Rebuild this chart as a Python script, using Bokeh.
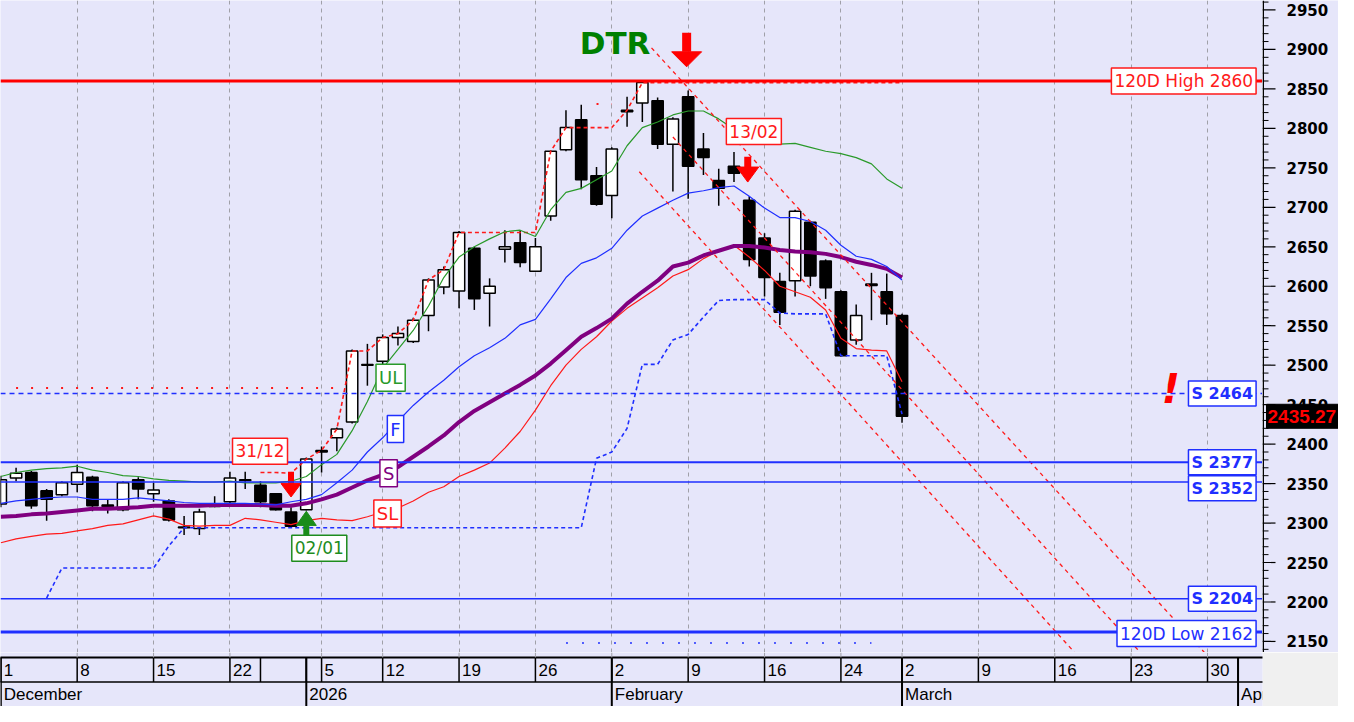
from bokeh.plotting import figure
from bokeh.models import (Range1d, Label, Span, Grid, FixedTicker, ColumnDataSource)
from bokeh.layouts import column, row
from bokeh.embed import file_html
from bokeh.resources import INLINE
from bokeh.core.properties import value

# ---------------- data ----------------
opens = [2324, 2357, 2364, 2341, 2336, 2349, 2358, 2323, 2317, 2355,
         2337, 2328, 2295, 2293, 2322, 2327, 2354, 2348, 2337, 2314,
         2317, 2390, 2408, 2428, 2500, 2505, 2535, 2530, 2563, 2599,
         2594, 2648, 2591, 2647, 2655, 2619, 2689, 2773, 2811, 2740,
         2715, 2821, 2832, 2835, 2780, 2840, 2774, 2734, 2752, 2709,
         2661, 2606, 2607, 2681, 2632, 2593, 2532, 2601, 2593, 2563]
highs = [2360, 2370, 2366, 2343, 2353, 2374, 2360, 2330, 2353, 2358,
         2351, 2330, 2309, 2318, 2334, 2365, 2365, 2353, 2338, 2320,
         2383, 2397, 2421, 2520, 2527, 2539, 2549, 2560, 2610, 2625,
         2670, 2650, 2610, 2671, 2670, 2661, 2772, 2823, 2830, 2751,
         2776, 2840, 2860, 2839, 2814, 2848, 2794, 2749, 2770, 2714,
         2667, 2617, 2697, 2683, 2634, 2595, 2577, 2617, 2616, 2565]
lows = [2320, 2353, 2318, 2303, 2334, 2339, 2315, 2312, 2315, 2330,
        2327, 2302, 2285, 2285, 2320, 2324, 2343, 2320, 2316, 2295,
        2316, 2364, 2391, 2426, 2474, 2499, 2525, 2528, 2543, 2590,
        2572, 2570, 2549, 2630, 2624, 2618, 2683, 2771, 2723, 2702,
        2686, 2802, 2808, 2774, 2720, 2711, 2741, 2702, 2732, 2625,
        2587, 2551, 2587, 2600, 2584, 2511, 2526, 2557, 2551, 2427]
closes = [2355, 2363, 2322, 2330, 2351, 2364, 2322, 2321, 2351, 2343,
          2342, 2304, 2294, 2314, 2321, 2357, 2355, 2327, 2317, 2296,
          2381, 2392, 2419, 2518, 2501, 2535, 2540, 2557, 2608, 2621,
          2668, 2584, 2600, 2650, 2630, 2650, 2771, 2801, 2735, 2704,
          2774, 2823, 2858, 2780, 2812, 2752, 2763, 2724, 2743, 2634,
          2611, 2567, 2695, 2613, 2598, 2512, 2563, 2603, 2565, 2435.27]

ul_line = [2359, 2364, 2367, 2369, 2370, 2372, 2367, 2364, 2360, 2359,
           2356, 2354, 2353, 2352, 2352, 2353, 2351, 2351, 2351, 2353,
           2359, 2374, 2387, 2417, 2454, 2496, 2520, 2544, 2575, 2611,
           2637, 2650, 2660, 2669, 2671, 2663, 2697, 2719, 2724, 2735,
           2746, 2778, 2801, 2808, 2817, 2822, 2822, 2812, 2799, 2791,
           2782, 2780, 2781, 2776, 2771, 2768, 2763, 2755, 2736, 2724]
f_line = [2325, 2328, 2330, 2332, 2333, 2333, 2330, 2330, 2330, 2332,
          2330, 2328, 2326, 2325, 2325, 2325, 2325, 2324, 2323, 2327,
          2330, 2336, 2351, 2367, 2390, 2408, 2429, 2449, 2466, 2481,
          2498, 2512, 2522, 2534, 2551, 2558, 2584, 2611, 2629, 2636,
          2648, 2671, 2689, 2699, 2709, 2718, 2721, 2725, 2727, 2714,
          2699, 2687, 2687, 2682, 2671, 2652, 2638, 2634, 2625, 2608]
s_line = [2308, 2309, 2311, 2312, 2314, 2316, 2318, 2318, 2319, 2320,
          2322, 2322, 2322, 2322, 2323, 2323, 2323, 2323, 2322, 2322,
          2325, 2330, 2336, 2345, 2354, 2361, 2371, 2384, 2397, 2411,
          2428, 2442, 2453, 2464, 2475, 2487, 2502, 2519, 2536, 2547,
          2559, 2578, 2593, 2607, 2625, 2630, 2639, 2645, 2651, 2651,
          2649, 2646, 2644, 2643, 2641, 2637, 2631, 2627, 2622, 2611]
sl_line = [2275, 2280, 2283, 2286, 2287, 2290, 2293, 2297, 2299, 2304,
           2309, 2305, 2297, 2296, 2297, 2297, 2306, 2304, 2301, 2298,
           2303, 2306, 2304, 2303, 2308, 2314, 2319, 2328, 2339, 2346,
           2359, 2367, 2376, 2395, 2416, 2443, 2474, 2500, 2520, 2536,
           2556, 2572, 2585, 2598, 2613, 2621, 2635, 2645, 2652, 2637,
           2620, 2600, 2593, 2586, 2570, 2534, 2521, 2519, 2518, 2479]

upper_stop_start = 17
upper_stop = [2364, 2364, 2363, 2381, 2392, 2419, 2518, 2518, 2535, 2540,
              2557, 2608, 2621, 2668, 2668, 2668, 2668, 2668, 2668, 2771,
              2801, 2801, 2801, 2801, 2823, 2858, 2858, 2858, 2858, 2858,
              2858, 2858, 2858, 2858, 2858, 2858, 2858, 2858, 2858, 2858,
              2858, 2858, 2858]
lower_stop_start = 3
lower_stop = [2205, 2243, 2243, 2243, 2243, 2243, 2243, 2243, 2271, 2294,
              2294, 2294, 2294, 2294, 2294, 2294, 2294, 2294, 2294, 2294,
              2294, 2294, 2294, 2294, 2294, 2294, 2294, 2294, 2294, 2294,
              2294, 2294, 2294, 2294, 2294, 2294, 2382, 2390, 2420, 2501,
              2501, 2532, 2539, 2561, 2582, 2583, 2583, 2583, 2566, 2565,
              2565, 2565, 2512, 2512, 2512, 2512, 2438]

level_values = [2860, 2464, 2377, 2352, 2204, 2162]
level_labels = ["120D High 2860", "S 2464", "S 2377", "S 2352", "S 2204", "120D Low 2162"]
old_resistance = 2471
old_resistance_span = [1, 22]
far_support = 2148
far_support_span = [37, 57]
prior_high = 2831
prior_high_span = [39, 40]

# DTR channel lines
dtr_x0 = [42.6, 44.0, 41.8]
dtr_y0 = [2902, 2789, 2745]
dtr_x1 = [78.8, 74.6, 70.3]
dtr_y1 = [2136, 2136, 2136]

last_price = 2435.27

# price axis
price_ticks = [2150, 2200, 2250, 2300, 2350, 2400, 2450, 2500, 2550, 2600,
               2650, 2700, 2750, 2800, 2850, 2900, 2950]

# date axis
day_ticks = [0, 5, 10, 15, 17, 20, 21, 25, 30, 35, 40, 45, 50, 55, 59, 64, 69, 74, 79, 81]
day_labels = ["1", "8", "15", "22", "", "", "5", "12", "19", "26", "2", "9", "16", "24",
              "2", "9", "16", "23", "30", ""]
month_ticks = [0, 20, 40, 59, 81]
month_labels = ["December", "2026", "February", "March", "April"]
grid_ticks = [5, 10, 15, 21, 25, 30, 35, 40, 45, 50, 55, 59, 64, 69, 74, 79]

# ---------------- styling ----------------
W = 1338
RB = 76
MAIN_H = 652
BOT_H = 54
BG = "#E6E6FA"
FONT = "Liberation Sans"
LFONT = "DejaVu Sans"
BLUE = "#1f2fff"
RED = "#ff1a1a"
GREEN = "#1e8c1e"
PURPLE = "#800080"
XEND = 82.6
YR = (2136, 2962)
PXU = (W - RB) / (XEND + 0.02)   # pixels per index unit

p = figure(width=W - RB, height=MAIN_H, x_range=Range1d(-0.02, XEND),
           y_range=Range1d(*YR), output_backend="svg", toolbar_location=None,
           x_axis_location=None, y_axis_location=None, min_border=0,
           background_fill_color=BG, border_fill_color=BG, outline_line_color=None)
p.grid.visible = False
p.add_layout(Grid(dimension=0, ticker=FixedTicker(ticks=grid_ticks),
                  grid_line_color="#a0a0a8", grid_line_dash="4 4", grid_line_width=1))

# horizontal levels
lvl_styles = [dict(line_color="#ff0000", line_width=3),
              dict(line_color=BLUE, line_width=1.5, line_dash="5 4"),
              dict(line_color=BLUE, line_width=2),
              dict(line_color=BLUE, line_width=1.5),
              dict(line_color=BLUE, line_width=1.5),
              dict(line_color=BLUE, line_width=3)]
for v, st in zip(level_values, lvl_styles):
    p.add_layout(Span(location=v, dimension="width", **st))

p.line(old_resistance_span, [old_resistance] * 2, line_color=RED, line_width=2, line_dash="2 13")
p.line(far_support_span, [far_support] * 2, line_color=BLUE, line_width=1.5, line_dash="2 14")
p.line(prior_high_span, [prior_high] * 2, line_color=RED, line_width=2, line_dash="2 13")

# candles
idx = list(range(len(opens)))
src = ColumnDataSource(dict(
    x=idx, h=highs, l=lows,
    top=[max(o, c) for o, c in zip(opens, closes)],
    bottom=[min(o, c) for o, c in zip(opens, closes)],
    fill=["white" if c >= o else "black" for o, c in zip(opens, closes)]))
p.segment("x", "h", "x", "l", source=src, line_color="black", line_width=1.5)
p.vbar(x="x", width=0.74, top="top", bottom="bottom", fill_color="fill",
       line_color="black", line_width=1.5, source=src)

# indicator lines
p.line(list(range(lower_stop_start, lower_stop_start + len(lower_stop))), lower_stop,
       line_color=BLUE, line_width=1.6, line_dash="4 3")
p.line(list(range(upper_stop_start, upper_stop_start + len(upper_stop))), upper_stop,
       line_color=RED, line_width=1.6, line_dash="4 3")
p.line(idx, sl_line, line_color=RED, line_width=1.2)
p.line(idx, s_line, line_color=PURPLE, line_width=4)
p.line(idx, f_line, line_color=BLUE, line_width=1.2)
p.line(idx, ul_line, line_color="#2a9a2a", line_width=1.2)

p.segment(dtr_x0, dtr_y0, dtr_x1, dtr_y1, line_color=RED, line_width=1.3, line_dash="4 4")

# arrows
def arrow(x, y_top, y_base, y_tip, shaft, half, color):
    p.segment([x], [y_top], [x], [y_base], line_color=color, line_width=shaft, line_cap="butt")
    hw = half / PXU
    p.patch([x - hw, x + hw, x], [y_base, y_base, y_tip], fill_color=color, line_color=color)

arrow(19, 2365, 2350, 2333, 6, 10, "#ff0000")
arrow(20, 2281, 2297, 2315, 6, 10, "#1a8c1a")
arrow(44.9, 2921, 2897, 2878, 9, 15, "#ff0000")
arrow(48.9, 2764, 2751, 2732, 7, 11, "#ff0000")

# boxed labels
def box(text, x, y, color, size="16px", align="center", bold=False, pad=3):
    p.add_layout(Label(x=x, y=y, text=text, text_color=color, text_font=LFONT,
                       text_font_size=size, text_font_style="bold" if bold else "normal",
                       text_align=align, text_baseline="middle",
                       background_fill_color="white", border_line_color=color,
                       border_line_width=1.5, padding=pad))

box("31/12", 16.97, 2391, RED, size="17px")
box("02/01", 20.85, 2268, GREEN, size="17px")
box("13/02", 49.3, 2796, RED, size="17px")
box("UL", 25.52, 2484, "#2a9a2a", size="18px")
box("F", 25.84, 2419, BLUE, size="18px")
box("S", 25.39, 2363, PURPLE, size="18px")
box("SL", 25.32, 2312, RED, size="18px")

label_y = [2860, 2464, 2377, 2344, 2204, 2160]
label_col = [RED, BLUE, BLUE, BLUE, BLUE, BLUE]
label_bold = [False, True, True, True, True, False]
label_size = ["17px", "16px", "16px", "16px", "16px", "17px"]
for t, yv, c, bd, sz in zip(level_labels, label_y, label_col, label_bold, label_size):
    box(t, XEND - 0.42, yv, c, size=sz, align="right", bold=bd)

p.add_layout(Label(x=37.9, y=2908, text="DTR", text_color="#008000", text_font=LFONT,
                   text_font_style="bold", text_font_size="31px", text_baseline="middle"))
p.add_layout(Label(x=76.6, y=2470, text="!", text_color="#ff0000", text_font=LFONT,
                   text_font_style="bold italic", text_font_size="40px",
                   text_align="center", text_baseline="middle"))

# ---------------- price axis (right) ----------------
a = figure(width=RB, height=MAIN_H, x_range=Range1d(0, RB), y_range=p.y_range,
           output_backend="svg", toolbar_location=None,
           x_axis_location=None, y_axis_location=None, min_border=0,
           background_fill_color=BG, border_fill_color=BG, outline_line_color=None)
a.grid.visible = False
a.segment([0.75], [YR[0]], [0.75], [YR[1]], line_color="black", line_width=1.5)
minor = [v for v in range(2140, 2961, 10) if v % 50 != 0]
a.segment([0] * len(minor), minor, [6] * len(minor), minor, line_color="black", line_width=1)
a.segment([0] * len(price_ticks), price_ticks, [13] * len(price_ticks), price_ticks,
          line_color="black", line_width=1.2)
a.text([24] * len(price_ticks), price_ticks, text=[str(t) for t in price_ticks],
       text_font=value(LFONT), text_font_style="bold", text_font_size="15px",
       text_baseline="middle", text_color="black")
a.rect([40], [last_price], width=[72], height=[24], height_units="screen",
       fill_color="black", line_color="black")
a.text([5], [last_price], text=[f"{last_price:.2f}"], text_font=value(FONT),
       text_font_style="bold", text_font_size="19px", text_baseline="middle",
       text_color="#ff0000")

# ---------------- date axis ----------------
b = figure(width=W, height=BOT_H, x_range=p.x_range, y_range=Range1d(0, 2.2),
           output_backend="svg", toolbar_location=None,
           x_axis_location=None, y_axis_location=None,
           min_border_left=0, min_border_top=0, min_border_bottom=0, min_border_right=RB,
           background_fill_color=BG, border_fill_color="#f0f0f0", outline_line_color=None)
b.grid.visible = False
b.segment([-1, -1], [2, 1], [XEND + 1, XEND + 1], [2, 1], line_color="black", line_width=[2, 1.5])
b.segment(day_ticks, [1] * len(day_ticks), day_ticks, [2] * len(day_ticks),
          line_color="black", line_width=1.5)
b.segment(month_ticks, [0] * len(month_ticks), month_ticks, [2] * len(month_ticks),
          line_color="black", line_width=2)
b.segment(grid_ticks, [2] * len(grid_ticks), grid_ticks, [2.2] * len(grid_ticks),
          line_color="#a0a0a8", line_width=1)
b.text(day_ticks, [1.5] * len(day_ticks), text=day_labels, x_offset=3,
       text_font=value(FONT), text_font_size="17px", text_baseline="middle", text_color="black")
b.text(month_ticks, [0.5] * len(month_ticks), text=month_labels, x_offset=3,
       text_font=value(FONT), text_font_size="17px", text_baseline="middle", text_color="black")

layout = column(row(p, a, spacing=0), b, spacing=0)
open("out.html", "w").write(file_html(layout, INLINE))
